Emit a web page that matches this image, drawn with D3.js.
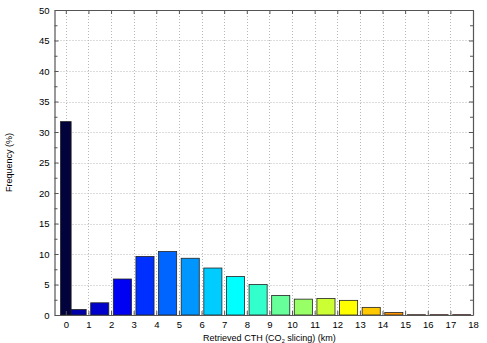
<!DOCTYPE html>
<html>
<head>
<meta charset="utf-8">
<script src="https://cdn.jsdelivr.net/npm/d3@7"></script>
<style>
  body { margin: 0; background: #fff; }
  text { font-family: "Liberation Sans", Arial, sans-serif; fill: #000; }
</style>
</head>
<body>
<div id="chart"></div>
<script>
// histogram of retrieved cloud top height; first bar is the "0" (no retrieval) class
const centers = [0, 0.5, 1.5, 2.5, 3.5, 4.5, 5.5, 6.5, 7.5, 8.5, 9.5, 10.5, 11.5, 12.5, 13.5, 14.5, 15.5, 16.5, 17.5];
const widths = [0.47, 0.8, 0.8, 0.8, 0.8, 0.8, 0.8, 0.8, 0.8, 0.8, 0.8, 0.8, 0.8, 0.8, 0.8, 0.8, 0.8, 0.8, 0.8];
const freq = [31.7, 0.9, 2.0, 5.9, 9.6, 10.4, 9.3, 7.7, 6.3, 5.0, 3.2, 2.6, 2.7, 2.4, 1.25, 0.4, 0.05, 0.05, 0.05];
const colors = ['#02023c', '#0000a8', '#0000cc', '#0000f2', '#0030ff', '#0064ff', '#0096ff', '#00ccff',
  '#00ffff', '#33ffcc', '#66ff99', '#99ff66', '#ccff33', '#ffff00', '#ffc800', '#ff9600',
  '#ff6400', '#ff3200', '#ff0000'];
const xTicks = d3.range(0, 19);
const yTicks = d3.range(0, 51, 5);
const yMinor = d3.range(0, 50.1, 2.5);

const width = 487;
const height = 343;
const margin = { top: 10, right: 14, bottom: 28, left: 54.5 };

const svg = d3.select('#chart').append('svg')
  .attr('width', width)
  .attr('height', height);

const x = d3.scaleLinear().domain([-0.5, 18]).range([margin.left, width - margin.right]);
const y = d3.scaleLinear().domain([0, 50]).range([height - margin.bottom, margin.top]);

// grid
const grid = svg.append('g')
  .attr('stroke', '#b8b8b8')
  .attr('stroke-width', 1)
  .attr('stroke-dasharray', '1,2');
grid.selectAll('.gx').data(xTicks).join('line')
  .attr('x1', d => Math.round(x(d)) + 0.5).attr('x2', d => Math.round(x(d)) + 0.5)
  .attr('y1', y(50)).attr('y2', y(0));
grid.selectAll('.gy').data(yTicks.slice(1, -1)).join('line')
  .attr('y1', d => Math.round(y(d)) + 0.5).attr('y2', d => Math.round(y(d)) + 0.5)
  .attr('x1', x(-0.5)).attr('x2', x(18));

// bars (draw the 0 class last so it sits on top)
const order = d3.range(1, centers.length).concat([0]);
svg.append('g').selectAll('rect').data(order).join('rect')
  .attr('x', i => x(centers[i] - widths[i] / 2))
  .attr('width', i => x(centers[i] + widths[i] / 2) - x(centers[i] - widths[i] / 2))
  .attr('y', i => y(freq[i]))
  .attr('height', i => y(0) - y(freq[i]))
  .attr('fill', i => colors[i])
  .attr('stroke', '#222')
  .attr('stroke-width', 0.8);

// axes: ticks inward on all four sides, MATLAB style
const axisColor = '#555';
const gBottom = svg.append('g').attr('transform', `translate(0,${y(0)})`)
  .call(d3.axisBottom(x).tickValues(xTicks).tickSizeInner(-4).tickSizeOuter(0).tickPadding(6));
const gTop = svg.append('g').attr('transform', `translate(0,${y(50)})`)
  .call(d3.axisTop(x).tickValues(xTicks).tickSizeInner(-4).tickSizeOuter(0).tickFormat(''));
const gLeft = svg.append('g').attr('transform', `translate(${x(-0.5)},0)`)
  .call(d3.axisLeft(y).tickValues(yMinor).tickSizeInner(-4).tickSizeOuter(0).tickPadding(5)
    .tickFormat(d => (d % 5 === 0 ? d : '')));
const gRight = svg.append('g').attr('transform', `translate(${x(18)},0)`)
  .call(d3.axisRight(y).tickValues(yMinor).tickSizeInner(-4).tickSizeOuter(0).tickFormat(''));

[gBottom, gTop, gLeft, gRight].forEach(g => {
  g.select('.domain').attr('stroke', axisColor).attr('stroke-width', 1.2);
  g.selectAll('.tick line').attr('stroke', axisColor);
  g.selectAll('.tick text').attr('font-size', 9.5).attr('font-family', '"Liberation Sans", Arial, sans-serif');
});
gLeft.selectAll('.tick line').filter(d => d % 5 !== 0).attr('x2', 3);
gRight.selectAll('.tick line').filter(d => d % 5 !== 0).attr('x2', -3);

// labels
const xl = svg.append('text')
  .attr('x', x(9)).attr('y', 340.5)
  .attr('text-anchor', 'middle')
  .attr('font-size', 9);
xl.append('tspan').text('Retrieved CTH (CO');
xl.append('tspan').attr('font-size', 5.5).attr('dy', 2).text('2');
xl.append('tspan').attr('dy', -2).text(' slicing) (km)');

svg.append('text')
  .attr('transform', `translate(12,${(y(0) + y(50)) / 2}) rotate(-90)`)
  .attr('text-anchor', 'middle')
  .attr('font-size', 9)
  .text('Frequency (%)');
</script>
</body>
</html>
